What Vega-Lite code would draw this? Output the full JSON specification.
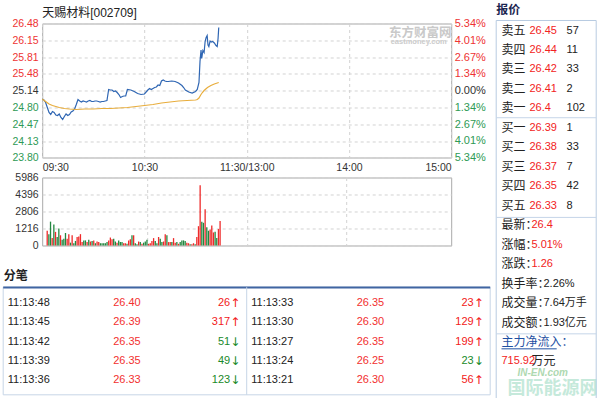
{
  "$schema": "https://vega.github.io/schema/vega-lite/v6.json",
  "background": "white",
  "padding": {"left": 2.2, "top": 3.5, "right": 0, "bottom": 0},
  "config": {
    "font": "Liberation Sans, Noto Sans CJK SC",
    "view": {"stroke": "#a9a9a9"},
    "axis": {"labelFont": "Liberation Sans", "labelFontSize": 10.5, "domain": false, "ticks": false, "gridDash": [3, 3], "gridColor": "#d2d2d2", "labelOverlap": false},
    "text": {"font": "Liberation Sans, Noto Sans CJK SC", "baseline": "middle"}
  },
  "datasets": {
    "px": [
      {"t":0,"v":24.97,"s":"p"},{"t":1,"v":24.95,"s":"p"},{"t":2,"v":24.90,"s":"p"},{"t":3,"v":24.80,"s":"p"},{"t":4,"v":24.70,"s":"p"},{"t":5,"v":24.66,"s":"p"},{"t":6,"v":24.72,"s":"p"},{"t":7,"v":24.70,"s":"p"},{"t":8,"v":24.65,"s":"p"},{"t":9,"v":24.64,"s":"p"},{"t":10,"v":24.67,"s":"p"},{"t":11,"v":24.60,"s":"p"},{"t":12,"v":24.56,"s":"p"},{"t":13,"v":24.62,"s":"p"},{"t":14,"v":24.67,"s":"p"},{"t":15,"v":24.64,"s":"p"},{"t":16,"v":24.66,"s":"p"},{"t":17,"v":24.71,"s":"p"},{"t":18,"v":24.73,"s":"p"},{"t":19,"v":24.77,"s":"p"},{"t":20,"v":24.86,"s":"p"},{"t":21,"v":24.96,"s":"p"},{"t":22,"v":24.93,"s":"p"},{"t":23,"v":24.91,"s":"p"},{"t":24,"v":24.93,"s":"p"},{"t":25,"v":24.92,"s":"p"},{"t":26,"v":24.91,"s":"p"},{"t":27,"v":24.93,"s":"p"},{"t":28,"v":24.94,"s":"p"},{"t":29,"v":24.92,"s":"p"},{"t":30,"v":24.92,"s":"p"},{"t":31,"v":24.93,"s":"p"},{"t":32,"v":24.93,"s":"p"},{"t":33,"v":24.92,"s":"p"},{"t":34,"v":24.91,"s":"p"},{"t":35,"v":24.92,"s":"p"},{"t":36,"v":24.92,"s":"p"},{"t":37,"v":24.93,"s":"p"},{"t":38,"v":24.94,"s":"p"},{"t":39,"v":25.16,"s":"p"},{"t":40,"v":25.15,"s":"p"},{"t":41,"v":25.15,"s":"p"},{"t":42,"v":25.12,"s":"p"},{"t":43,"v":25.13,"s":"p"},{"t":44,"v":25.10,"s":"p"},{"t":45,"v":25.06,"s":"p"},{"t":46,"v":25.00,"s":"p"},{"t":47,"v":25.02,"s":"p"},{"t":48,"v":25.03,"s":"p"},{"t":49,"v":25.03,"s":"p"},{"t":50,"v":25.16,"s":"p"},{"t":52,"v":25.15,"s":"p"},{"t":54,"v":25.12,"s":"p"},{"t":56,"v":25.08,"s":"p"},{"t":58,"v":25.06,"s":"p"},{"t":60,"v":25.07,"s":"p"},{"t":62,"v":25.15,"s":"p"},{"t":63,"v":25.18,"s":"p"},{"t":64,"v":25.16,"s":"p"},{"t":66,"v":25.20,"s":"p"},{"t":67,"v":25.21,"s":"p"},{"t":68,"v":25.25,"s":"p"},{"t":69,"v":25.24,"s":"p"},{"t":70,"v":25.33,"s":"p"},{"t":71,"v":25.35,"s":"p"},{"t":72,"v":25.33,"s":"p"},{"t":73,"v":25.32,"s":"p"},{"t":74,"v":25.32,"s":"p"},{"t":76,"v":25.33,"s":"p"},{"t":78,"v":25.32,"s":"p"},{"t":80,"v":25.29,"s":"p"},{"t":82,"v":25.24,"s":"p"},{"t":83,"v":25.20,"s":"p"},{"t":84,"v":25.15,"s":"p"},{"t":86,"v":25.11,"s":"p"},{"t":88,"v":25.09,"s":"p"},{"t":90,"v":25.12,"s":"p"},{"t":91,"v":25.16,"s":"p"},{"t":92,"v":25.30,"s":"p"},{"t":92.6,"v":25.72,"s":"p"},{"t":93.2,"v":25.95,"s":"p"},{"t":93.6,"v":25.78,"s":"p"},{"t":94.3,"v":25.94,"s":"p"},{"t":95,"v":25.90,"s":"p"},{"t":95.6,"v":26.12,"s":"p"},{"t":96.2,"v":26.20,"s":"p"},{"t":96.8,"v":26.24,"s":"p"},{"t":97.3,"v":26.05,"s":"p"},{"t":97.8,"v":26.02,"s":"p"},{"t":98.5,"v":26.13,"s":"p"},{"t":99.2,"v":26.11,"s":"p"},{"t":100,"v":26.12,"s":"p"},{"t":101,"v":26.09,"s":"p"},{"t":102,"v":26.04,"s":"p"},{"t":102.7,"v":26.02,"s":"p"},{"t":103.2,"v":26.18,"s":"p"},{"t":103.6,"v":26.40,"s":"p"},
      {"t":0,"v":24.97,"s":"a"},{"t":2,"v":24.92,"s":"a"},{"t":4,"v":24.87,"s":"a"},{"t":6,"v":24.84,"s":"a"},{"t":8,"v":24.82,"s":"a"},{"t":10,"v":24.80,"s":"a"},{"t":13,"v":24.78,"s":"a"},{"t":16,"v":24.77,"s":"a"},{"t":20,"v":24.76,"s":"a"},{"t":25,"v":24.77,"s":"a"},{"t":30,"v":24.77,"s":"a"},{"t":35,"v":24.78,"s":"a"},{"t":40,"v":24.78,"s":"a"},{"t":45,"v":24.79,"s":"a"},{"t":50,"v":24.80,"s":"a"},{"t":55,"v":24.82,"s":"a"},{"t":60,"v":24.84,"s":"a"},{"t":65,"v":24.86,"s":"a"},{"t":70,"v":24.89,"s":"a"},{"t":75,"v":24.91,"s":"a"},{"t":80,"v":24.93,"s":"a"},{"t":85,"v":24.94,"s":"a"},{"t":90,"v":24.95,"s":"a"},{"t":91,"v":24.96,"s":"a"},{"t":92,"v":24.99,"s":"a"},{"t":93,"v":25.05,"s":"a"},{"t":94,"v":25.10,"s":"a"},{"t":95,"v":25.14,"s":"a"},{"t":97,"v":25.20,"s":"a"},{"t":99,"v":25.24,"s":"a"},{"t":101,"v":25.27,"s":"a"},{"t":103.6,"v":25.30,"s":"a"}
    ],
    "vol": [
      {"t":0,"v":1300,"d":"u"},{"t":1,"v":1000,"d":"d"},{"t":2,"v":2100,"d":"d"},{"t":3,"v":650,"d":"u"},{"t":4,"v":1850,"d":"d"},{"t":5,"v":1200,"d":"u"},{"t":6,"v":750,"d":"d"},{"t":7,"v":1500,"d":"d"},{"t":8,"v":900,"d":"u"},{"t":9,"v":500,"d":"d"},{"t":10,"v":600,"d":"d"},{"t":11,"v":1100,"d":"d"},{"t":12,"v":600,"d":"u"},{"t":13,"v":1000,"d":"u"},{"t":14,"v":250,"d":"d"},{"t":15,"v":900,"d":"u"},{"t":16,"v":200,"d":"d"},{"t":17,"v":400,"d":"d"},{"t":18,"v":750,"d":"u"},{"t":19,"v":800,"d":"u"},{"t":20,"v":1000,"d":"u"},{"t":21,"v":300,"d":"u"},{"t":22,"v":450,"d":"d"},{"t":23,"v":450,"d":"d"},{"t":24,"v":300,"d":"u"},{"t":25,"v":500,"d":"d"},{"t":26,"v":350,"d":"u"},{"t":27,"v":400,"d":"d"},{"t":28,"v":450,"d":"u"},{"t":29,"v":200,"d":"d"},{"t":30,"v":350,"d":"u"},{"t":31,"v":300,"d":"u"},{"t":32,"v":200,"d":"d"},{"t":33,"v":200,"d":"d"},{"t":34,"v":200,"d":"d"},{"t":35,"v":200,"d":"d"},{"t":36,"v":300,"d":"d"},{"t":37,"v":450,"d":"u"},{"t":38,"v":700,"d":"u"},{"t":39,"v":550,"d":"u"},{"t":40,"v":600,"d":"d"},{"t":41,"v":350,"d":"d"},{"t":42,"v":250,"d":"u"},{"t":43,"v":450,"d":"d"},{"t":44,"v":300,"d":"d"},{"t":45,"v":300,"d":"d"},{"t":46,"v":200,"d":"u"},{"t":47,"v":200,"d":"u"},{"t":48,"v":150,"d":"d"},{"t":49,"v":450,"d":"u"},{"t":50,"v":550,"d":"u"},{"t":51,"v":900,"d":"d"},{"t":52,"v":900,"d":"u"},{"t":53,"v":200,"d":"d"},{"t":54,"v":100,"d":"d"},{"t":55,"v":350,"d":"u"},{"t":56,"v":300,"d":"d"},{"t":57,"v":150,"d":"u"},{"t":58,"v":250,"d":"d"},{"t":59,"v":350,"d":"d"},{"t":60,"v":500,"d":"d"},{"t":61,"v":150,"d":"u"},{"t":62,"v":200,"d":"u"},{"t":63,"v":400,"d":"u"},{"t":64,"v":650,"d":"u"},{"t":65,"v":400,"d":"d"},{"t":66,"v":200,"d":"d"},{"t":67,"v":750,"d":"u"},{"t":68,"v":600,"d":"d"},{"t":69,"v":300,"d":"d"},{"t":70,"v":350,"d":"u"},{"t":71,"v":1000,"d":"u"},{"t":72,"v":900,"d":"d"},{"t":73,"v":300,"d":"u"},{"t":74,"v":300,"d":"u"},{"t":75,"v":300,"d":"d"},{"t":76,"v":650,"d":"u"},{"t":77,"v":250,"d":"u"},{"t":78,"v":300,"d":"d"},{"t":79,"v":150,"d":"u"},{"t":80,"v":300,"d":"d"},{"t":81,"v":450,"d":"d"},{"t":82,"v":450,"d":"d"},{"t":83,"v":400,"d":"d"},{"t":84,"v":250,"d":"u"},{"t":85,"v":200,"d":"u"},{"t":86,"v":100,"d":"d"},{"t":87,"v":100,"d":"u"},{"t":88,"v":200,"d":"u"},{"t":89,"v":100,"d":"d"},{"t":90,"v":750,"d":"u"},{"t":91,"v":1700,"d":"u"},{"t":92,"v":5300,"d":"u"},{"t":93,"v":2100,"d":"d"},{"t":94,"v":2000,"d":"d"},{"t":95,"v":3200,"d":"u"},{"t":96,"v":1600,"d":"d"},{"t":97,"v":1300,"d":"d"},{"t":98,"v":1400,"d":"u"},{"t":99,"v":1750,"d":"u"},{"t":100,"v":1150,"d":"u"},{"t":101,"v":1200,"d":"d"},{"t":102,"v":650,"d":"d"},{"t":103,"v":1450,"d":"u"},{"t":104,"v":2150,"d":"u"}
    ],
    "trades": [
      {"col":0,"row":1,"time":"11:13:48","price":"26.40","vol":"26","d":"u"},
      {"col":0,"row":2,"time":"11:13:45","price":"26.39","vol":"317","d":"u"},
      {"col":0,"row":3,"time":"11:13:42","price":"26.35","vol":"51","d":"d"},
      {"col":0,"row":4,"time":"11:13:39","price":"26.35","vol":"49","d":"d"},
      {"col":0,"row":5,"time":"11:13:36","price":"26.33","vol":"123","d":"d"},
      {"col":1,"row":1,"time":"11:13:33","price":"26.35","vol":"23","d":"u"},
      {"col":1,"row":2,"time":"11:13:30","price":"26.30","vol":"129","d":"u"},
      {"col":1,"row":3,"time":"11:13:27","price":"26.35","vol":"199","d":"u"},
      {"col":1,"row":4,"time":"11:13:24","price":"26.25","vol":"23","d":"d"},
      {"col":1,"row":5,"time":"11:13:21","price":"26.30","vol":"56","d":"u"}
    ],
    "pan": [
      {"i":0,"label":"卖五","price":"26.45","qty":"57","kind":"book"},
      {"i":1,"label":"卖四","price":"26.44","qty":"11","kind":"book"},
      {"i":2,"label":"卖三","price":"26.42","qty":"33","kind":"book"},
      {"i":3,"label":"卖二","price":"26.41","qty":"2","kind":"book"},
      {"i":4,"label":"卖一","price":"26.4","qty":"102","kind":"book"},
      {"i":5,"label":"买一","price":"26.39","qty":"1","kind":"book"},
      {"i":6,"label":"买二","price":"26.38","qty":"33","kind":"book"},
      {"i":7,"label":"买三","price":"26.37","qty":"7","kind":"book"},
      {"i":8,"label":"买四","price":"26.35","qty":"42","kind":"book"},
      {"i":9,"label":"买五","price":"26.33","qty":"8","kind":"book"},
      {"i":10,"label":"最新：","value":"26.4","up":true,"kind":"stat"},
      {"i":11,"label":"涨幅：","value":"5.01%","up":true,"kind":"stat"},
      {"i":12,"label":"涨跌：","value":"1.26","up":true,"kind":"stat"},
      {"i":13,"label":"换手率：","value":"2.26%","up":false,"kind":"stat"},
      {"i":14,"label":"成交量：","value":"7.64万手","up":false,"kind":"stat"},
      {"i":15,"label":"成交额：","value":"1.93亿元","up":false,"kind":"stat"},
      {"i":16,"label":"主力净流入：","kind":"link"},
      {"i":17,"label":"715.92","unit":"万元","kind":"flow"}
    ]
  },
  "hconcat": [
    {
      "vconcat": [
        {
          "width": 409,
          "height": 134,
          "title": {"text": "天赐材料[002709]", "anchor": "start", "frame": "group", "fontSize": 12, "fontWeight": "normal", "color": "#222222", "offset": -2.5, "font": "Liberation Sans, Noto Sans CJK SC"},
          "layer": [
            {
              "data": {"name": "px"},
              "mark": {"type": "line", "strokeWidth": 1.2},
              "encoding": {
                "x": {"field": "t", "type": "quantitative", "scale": {"domain": [0, 240], "nice": false, "zero": false},
                  "axis": {"title": null, "values": [0, 60, 120, 180, 240], "labelFlush": true, "labelPadding": 5, "grid": true, "labelFontSize": 10.5, "labelColor": "#333333",
                    "labelExpr": "datum.value == 0 ? '09:30' : datum.value == 60 ? '10:30' : datum.value == 120 ? '11:30/13:00' : datum.value == 180 ? '14:00' : '15:00'"}},
                "y": {"field": "v", "type": "quantitative", "scale": {"domain": [23.8, 26.48], "nice": false, "zero": false},
                  "axis": {"title": null, "values": [23.8, 24.13, 24.47, 24.8, 25.14, 25.48, 25.81, 26.15, 26.48], "grid": true, "labelPadding": 4, "labelFontSize": 10.5, "labelFlush": false, "labelOverlap": false, "labelBound": false,
                    "labelExpr": "format(datum.value, '.2f')",
                    "labelColor": {"condition": [{"test": "datum.value > 25.15", "value": "#ee3333"}, {"test": "datum.value < 25.13", "value": "#2e9a55"}], "value": "#333333"}}},
                "color": {"field": "s", "type": "nominal", "scale": {"domain": ["p", "a"], "range": ["#2f66b3", "#e8ad3c"]}, "legend": null}
              }
            },
            {
              "data": {"values": [{}]},
              "mark": {"type": "rule", "opacity": 0},
              "encoding": {
                "y": {"datum": 0, "type": "quantitative", "scale": {"domain": [-5.34, 5.34], "nice": false, "zero": false},
                  "axis": {"title": null, "orient": "right", "values": [-5.34, -4.01, -2.67, -1.34, 0, 1.34, 2.67, 4.01, 5.34], "grid": false, "labelPadding": 3, "labelFontSize": 11, "labelFlush": false, "labelOverlap": false,
                    "labelExpr": "format(abs(datum.value), '.2f') + '%'",
                    "labelColor": {"condition": [{"test": "datum.value > 0.001", "value": "#ee3333"}, {"test": "datum.value < -0.001", "value": "#2e9a55"}], "value": "#333333"}}}
              }
            },
            {
              "layer": [
                {
                  "data": {"values": [{}]},
                  "mark": {"type": "text", "text": "东方财富网", "align": "left", "fontSize": 12.5, "fontWeight": "bold", "color": "#c9c9c9", "font": "Noto Sans CJK SC"},
                  "encoding": {"x": {"datum": 203.5, "type": "quantitative"}, "y": {"datum": 26.3, "type": "quantitative", "scale": {"domain": [23.8, 26.48], "nice": false, "zero": false}, "axis": null}}
                },
                {
                  "data": {"values": [{}]},
                  "mark": {"type": "text", "text": "eastmoney.com", "align": "left", "fontSize": 7.5, "fontWeight": "bold", "color": "#cccccc"},
                  "encoding": {"x": {"datum": 204.5, "type": "quantitative"}, "y": {"datum": 26.11, "type": "quantitative", "axis": null}}
                }
              ]
            }
          ],
          "resolve": {"scale": {"y": "independent"}}
        },
        {
          "width": 409,
          "height": 68,
          "data": {"name": "vol"},
          "mark": {"type": "bar", "size": 1.3},
          "encoding": {
            "x": {"field": "t", "type": "quantitative", "scale": {"domain": [0, 240], "nice": false, "zero": false}, "axis": {"title": null, "values": [60, 120, 180], "labels": false, "grid": true}},
            "y": {"field": "v", "type": "quantitative", "scale": {"domain": [0, 5986], "nice": false}, "axis": {"title": null, "values": [0, 1496.5, 2993, 4489.5, 5986], "grid": true, "labelPadding": 4, "labelFontSize": 10.5, "labelFlush": false, "labelOverlap": false, "labelColor": "#333333",
              "labelExpr": "datum.value == 0 ? '0' : datum.value < 2000 ? '1216' : datum.value < 3500 ? '2806' : datum.value < 5000 ? '4396' : '5986'"}},
            "color": {"field": "d", "type": "nominal", "scale": {"domain": ["u", "d"], "range": ["#ee2a2a", "#22873f"]}, "legend": null}
          }
        },
        {
          "width": 487,
          "height": 130.5,
          "view": {"stroke": null},
          "layer": [
            {
              "data": {"values": [{}]},
              "mark": {"type": "rect", "fill": "white", "stroke": "#c7d5e6", "strokeWidth": 1},
              "encoding": {
                "y": {"datum": 0.171, "type": "quantitative", "scale": {"domain": [-0.953, 5.808], "reverse": true, "nice": false, "zero": false}, "axis": null},
                "y2": {"datum": 5.746}
              }
            },
            {
              "data": {"values": [{}]},
              "mark": {"type": "rule", "stroke": "#4065a2", "strokeWidth": 2},
              "encoding": {"y": {"datum": 0.19, "type": "quantitative", "axis": null}}
            },
            {
              "data": {"values": [{}]},
              "mark": {"type": "rule", "stroke": "#c7d5e6", "strokeWidth": 1},
              "encoding": {
                "x": {"datum": 1, "type": "quantitative", "scale": {"domain": [0, 2], "nice": false, "zero": false}, "axis": null},
                "y": {"datum": 0.171, "type": "quantitative", "axis": null},
                "y2": {"datum": 5.746}
              }
            },
            {
              "data": {"values": [{}]},
              "mark": {"type": "text", "text": "分笔", "align": "left", "dx": 0.6, "fontSize": 12, "fontWeight": "bold", "color": "#222222", "font": "Noto Sans CJK SC"},
              "encoding": {"x": {"datum": 0, "type": "quantitative", "axis": null}, "y": {"datum": -0.42, "type": "quantitative", "axis": null}}
            },
            {
              "data": {"name": "trades"},
              "mark": {"type": "text", "align": "left", "dx": 4.6, "fontSize": 11, "color": "#222222"},
              "encoding": {"x": {"field": "col", "type": "quantitative", "axis": null}, "y": {"field": "row", "type": "quantitative", "axis": null}, "text": {"field": "time"}}
            },
            {
              "data": {"name": "trades"},
              "mark": {"type": "text", "align": "left", "dx": 110, "fontSize": 11, "color": "#f23030"},
              "encoding": {"x": {"field": "col", "type": "quantitative", "axis": null}, "y": {"field": "row", "type": "quantitative", "axis": null}, "text": {"field": "price"}}
            },
            {
              "data": {"name": "trades"},
              "mark": {"type": "text", "align": "right", "dx": 227, "fontSize": 11},
              "encoding": {"x": {"field": "col", "type": "quantitative", "axis": null}, "y": {"field": "row", "type": "quantitative", "axis": null}, "text": {"field": "vol"},
                "color": {"field": "d", "type": "nominal", "scale": {"domain": ["u", "d"], "range": ["#f22020", "#1a8a2a"]}, "legend": null}}
            },
            {
              "data": {"name": "trades"},
              "mark": {"type": "text", "align": "center", "dx": 232, "fontSize": 12, "font": "DejaVu Sans"},
              "encoding": {"x": {"field": "col", "type": "quantitative", "axis": null}, "y": {"field": "row", "type": "quantitative", "axis": null},
                "text": {"condition": {"test": "datum.d == 'u'", "value": "↑"}, "value": "↓"},
                "color": {"field": "d", "type": "nominal", "legend": null}}
            }
          ]
        }
      ],
      "spacing": 20,
      "bounds": "flush",
      "center": true,
      "resolve": {"scale": {"color": "independent"}}
    },
    {
      "width": 100,
      "height": 377,
      "view": {"stroke": null},
      "data": {"name": "pan"},
      "layer": [
        {
          "data": {"values": [{}]},
          "mark": {"type": "rect", "fill": "white", "stroke": "#b8cbe1", "strokeWidth": 1},
          "encoding": {
            "y": {"datum": -0.514, "type": "quantitative", "scale": {"domain": [-0.3595, 19.0036], "reverse": true, "nice": false, "zero": false}, "axis": null},
            "y2": {"datum": 19.0}
          }
        },
        {
          "data": {"values": [{}]},
          "mark": {"type": "rule", "stroke": "#c5d5e8"},
          "encoding": {"y": {"datum": 4.48, "type": "quantitative", "axis": null}}
        },
        {
          "data": {"values": [{}]},
          "mark": {"type": "rule", "stroke": "#c5d5e8"},
          "encoding": {"y": {"datum": 9.6, "type": "quantitative", "axis": null}}
        },
        {
          "data": {"values": [{}]},
          "mark": {"type": "rule", "stroke": "#c5d5e8"},
          "encoding": {"y": {"datum": 15.58, "type": "quantitative", "axis": null}}
        },
        {
          "data": {"values": [{}]},
          "mark": {"type": "text", "text": "报价", "align": "left", "fontSize": 12, "fontWeight": "bold", "color": "#1c2650", "font": "Noto Sans CJK SC"},
          "encoding": {
            "x": {"datum": -0.44, "type": "quantitative", "scale": {"domain": [-0.442, 7.892], "nice": false, "zero": false}, "axis": null},
            "y": {"datum": -1.05, "type": "quantitative", "axis": null}
          }
        },
        {
          "transform": [{"filter": "datum.kind != 'flow'"}],
          "mark": {"type": "text", "align": "left", "fontSize": 12, "font": "Noto Sans CJK SC"},
          "encoding": {
            "x": {"datum": 0, "type": "quantitative", "axis": null},
            "y": {"field": "i", "type": "quantitative", "axis": null},
            "text": {"field": "label"},
            "color": {"condition": {"test": "datum.kind == 'link'", "value": "#1e50a2"}, "value": "#222222"}
          }
        },
        {
          "transform": [{"filter": "datum.kind == 'book'"}],
          "mark": {"type": "text", "align": "left", "fontSize": 11, "color": "#f22222"},
          "encoding": {"x": {"datum": 2.33, "type": "quantitative", "axis": null}, "y": {"field": "i", "type": "quantitative", "axis": null}, "text": {"field": "price"}}
        },
        {
          "transform": [{"filter": "datum.kind == 'book'"}],
          "mark": {"type": "text", "align": "left", "fontSize": 11, "color": "#222222"},
          "encoding": {"x": {"datum": 5.42, "type": "quantitative", "axis": null}, "y": {"field": "i", "type": "quantitative", "axis": null}, "text": {"field": "qty"}}
        },
        {
          "transform": [{"filter": "datum.kind == 'stat'"}, {"calculate": "length(datum.label) - 0.5", "as": "vx"}],
          "mark": {"type": "text", "align": "left", "fontSize": 11},
          "encoding": {
            "x": {"field": "vx", "type": "quantitative", "axis": null},
            "y": {"field": "i", "type": "quantitative", "axis": null},
            "text": {"field": "value"},
            "color": {"condition": {"test": "datum.up", "value": "#f22222"}, "value": "#222222"}
          }
        },
        {
          "data": {"values": [{}]},
          "mark": {"type": "rule", "stroke": "#1e50a2", "strokeWidth": 1},
          "encoding": {"x": {"datum": 0, "type": "quantitative", "axis": null}, "x2": {"datum": 4.6}, "y": {"datum": 16.35, "type": "quantitative", "axis": null}}
        },
        {
          "transform": [{"filter": "datum.kind == 'flow'"}],
          "mark": {"type": "text", "align": "left", "fontSize": 11, "color": "#f22222"},
          "encoding": {"x": {"datum": 0, "type": "quantitative", "axis": null}, "y": {"field": "i", "type": "quantitative", "axis": null}, "text": {"field": "label"}}
        },
        {
          "transform": [{"filter": "datum.kind == 'flow'"}],
          "mark": {"type": "text", "align": "left", "fontSize": 12, "color": "#222222", "font": "Noto Sans CJK SC"},
          "encoding": {"x": {"datum": 2.5, "type": "quantitative", "axis": null}, "y": {"field": "i", "type": "quantitative", "axis": null}, "text": {"field": "unit"}}
        },
        {
          "data": {"values": [{}]},
          "mark": {"type": "text", "text": "IN-EN.com", "align": "left", "fontSize": 10, "fontWeight": "bold", "fontStyle": "italic", "color": "#8cc98f", "opacity": 0.7},
          "encoding": {"x": {"datum": 1.33, "type": "quantitative", "axis": null}, "y": {"datum": 17.57, "type": "quantitative", "axis": null}}
        },
        {
          "data": {"values": [{}]},
          "mark": {"type": "text", "text": "国际能源网", "align": "left", "fontSize": 18, "fontWeight": "bold", "color": "#9fdcc4", "opacity": 0.6, "font": "Noto Sans CJK SC"},
          "encoding": {"x": {"datum": 0.5, "type": "quantitative", "axis": null}, "y": {"datum": 18.39, "type": "quantitative", "axis": null}}
        }
      ]
    }
  ],
  "spacing": 4
}
